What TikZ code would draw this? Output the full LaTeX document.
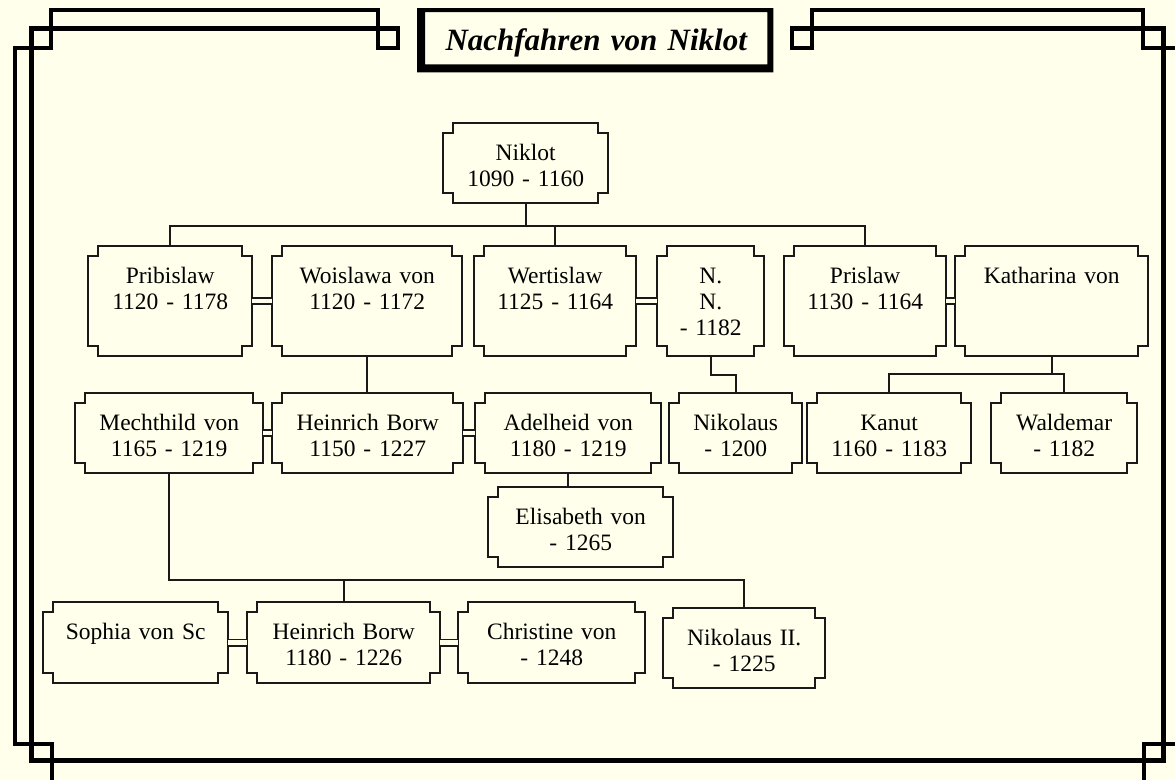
\documentclass[tikz,border=0pt]{standalone}
\usepackage{fontspec}
\setmainfont{Liberation Serif}
\definecolor{hintergrund}{RGB}{255,255,235}
\tikzset{
  kasten/.style 2 args={anchor=north west, inner sep=0pt, text width=#1pt, align=center, text height=37pt, text depth={(#2-37)*1pt}},
  rand/.style={line width=2pt, draw=black!90},
  linie/.style={line width=2pt, black!90},
  ehe/.style={line width=1.6pt, black!90, double=hintergrund, double distance=4.5pt},
  innen/.style={line width=5pt},
  aussen/.style={line width=4pt},
}
\begin{document}
\begin{tikzpicture}[x=1pt,y=-1pt,font=\fontsize{23.5}{26}\selectfont]
\fill[hintergrund] (0,0) rectangle (1175,780);
\useasboundingbox (0,0) rectangle (1175,780);
\draw[innen] (400,28) -- (31,28) -- (31,760.5) -- (1163,760.5) -- (1163,28) -- (790,28);
\draw[aussen] (51.5,780) -- (51.5,743.5) -- (15,743.5) -- (15,47.5) -- (51,47.5) -- (51,10) -- (377.5,10) -- (377.5,48) -- (397.5,48) -- (397.5,28);
\draw[aussen] (792,28) -- (792,48) -- (812,48) -- (812,10) -- (1143,10) -- (1143,48) -- (1175,48);
\draw[aussen] (1175,743.5) -- (1143.5,743.5) -- (1143.5,780);
\node (titel) [anchor=north west, inner sep=0pt, text width=342pt, align=center, text height=38pt, text depth=14pt, font=\fontsize{31}{34}\selectfont\bfseries\itshape] at (425,12) {Nachfahren von Niklot};
\fill[even odd rule] ([shift={(-8pt,4pt)}]titel.north west) rectangle ([shift={(6pt,-8pt)}]titel.south east) (titel.north west) rectangle (titel.south east);
\node (niklot) [kasten={165}{80}] at (443,123) {Niklot\\1090 - 1160};
\node (pribislaw) [kasten={164}{110}] at (88,246) {Pribislaw\\1120 - 1178};
\node (woislawa) [kasten={190}{110}] at (272,246) {Woislawa von\\1120 - 1172};
\node (wertislaw) [kasten={162}{110}] at (474,246) {Wertislaw\\1125 - 1164};
\node (nn) [kasten={107}{110}] at (657,246) {N.\\N.\\- 1182};
\node (prislaw) [kasten={162}{110}] at (784,246) {Prislaw\\1130 - 1164};
\node (katharina) [kasten={193}{110}] at (955,246) {Katharina von};
\node (mechthild) [kasten={188}{80}] at (75,393) {Mechthild von\\1165 - 1219};
\node (heinrich) [kasten={191}{80}] at (272,393) {Heinrich Borw\\1150 - 1227};
\node (adelheid) [kasten={186}{80}] at (475,393) {Adelheid von\\1180 - 1219};
\node (nikolaus) [kasten={133}{80}] at (669,393) {Nikolaus\\- 1200};
\node (kanut) [kasten={164}{80}] at (807,393) {Kanut\\1160 - 1183};
\node (waldemar) [kasten={146}{80}] at (991,393) {Waldemar\\- 1182};
\node (elisabeth) [kasten={185}{80}] at (488,487) {Elisabeth von\\- 1265};
\node (sophia) [kasten={185}{81}] at (43,602) {Sophia von Sc};
\node (heinrichzwei) [kasten={193}{81}] at (247,602) {Heinrich Borw\\1180 - 1226};
\node (christine) [kasten={187}{81}] at (458,602) {Christine von\\- 1248};
\node (nikolauszwei) [kasten={162}{80}] at (663,608) {Nikolaus II.\\- 1225};
\foreach \person in {niklot,pribislaw,woislawa,wertislaw,nn,prislaw,katharina,mechthild,heinrich,adelheid,nikolaus,kanut,waldemar,elisabeth,sophia,heinrichzwei,christine,nikolauszwei}
  \draw[rand] ([xshift=10pt]\person.north west) -- ([xshift=-10pt]\person.north east) -- ++(0,10) -- ++(10,0) -- ([yshift=10pt]\person.south east) -- ++(-10,0) -- ++(0,10) -- ([xshift=10pt]\person.south west) -- ++(0,-10) -- ++(-10,0) -- ([yshift=-10pt]\person.north west) -- ++(10,0) -- cycle;
\coordinate (niklotkinder) at (525,226);
\draw[linie] (niklot.south) -- (niklot.south |- niklotkinder);
\draw[linie] (pribislaw.north) |- (prislaw.north |- niklotkinder) -- (prislaw.north);
\draw[linie] (wertislaw.north) -- (wertislaw.north |- niklotkinder);
\draw[linie] (woislawa.south) -- (woislawa.south |- heinrich.north);
\draw[linie] (nn.south) -- ++(0,19) -| (nikolaus.north);
\coordinate (katharinakinder) at (1052,374);
\draw[linie] (katharina.south) -- (katharina.south |- katharinakinder);
\draw[linie] (kanut.north) |- (waldemar.north |- katharinakinder) -- (waldemar.north);
\draw[linie] (adelheid.south) -- (adelheid.south |- elisabeth.north);
\coordinate (mechthildkinder) at (170,580);
\draw[linie] (mechthild.south) |- (nikolauszwei.north |- mechthildkinder) -- (nikolauszwei.north);
\draw[linie] (heinrichzwei.north) -- (heinrichzwei.north |- mechthildkinder);
\foreach \a/\b in {pribislaw/woislawa,wertislaw/nn,prislaw/katharina,mechthild/heinrich,heinrich/adelheid,sophia/heinrichzwei,heinrichzwei/christine}
  \draw[ehe] (\a) -- (\b);
\end{tikzpicture}
\end{document}
